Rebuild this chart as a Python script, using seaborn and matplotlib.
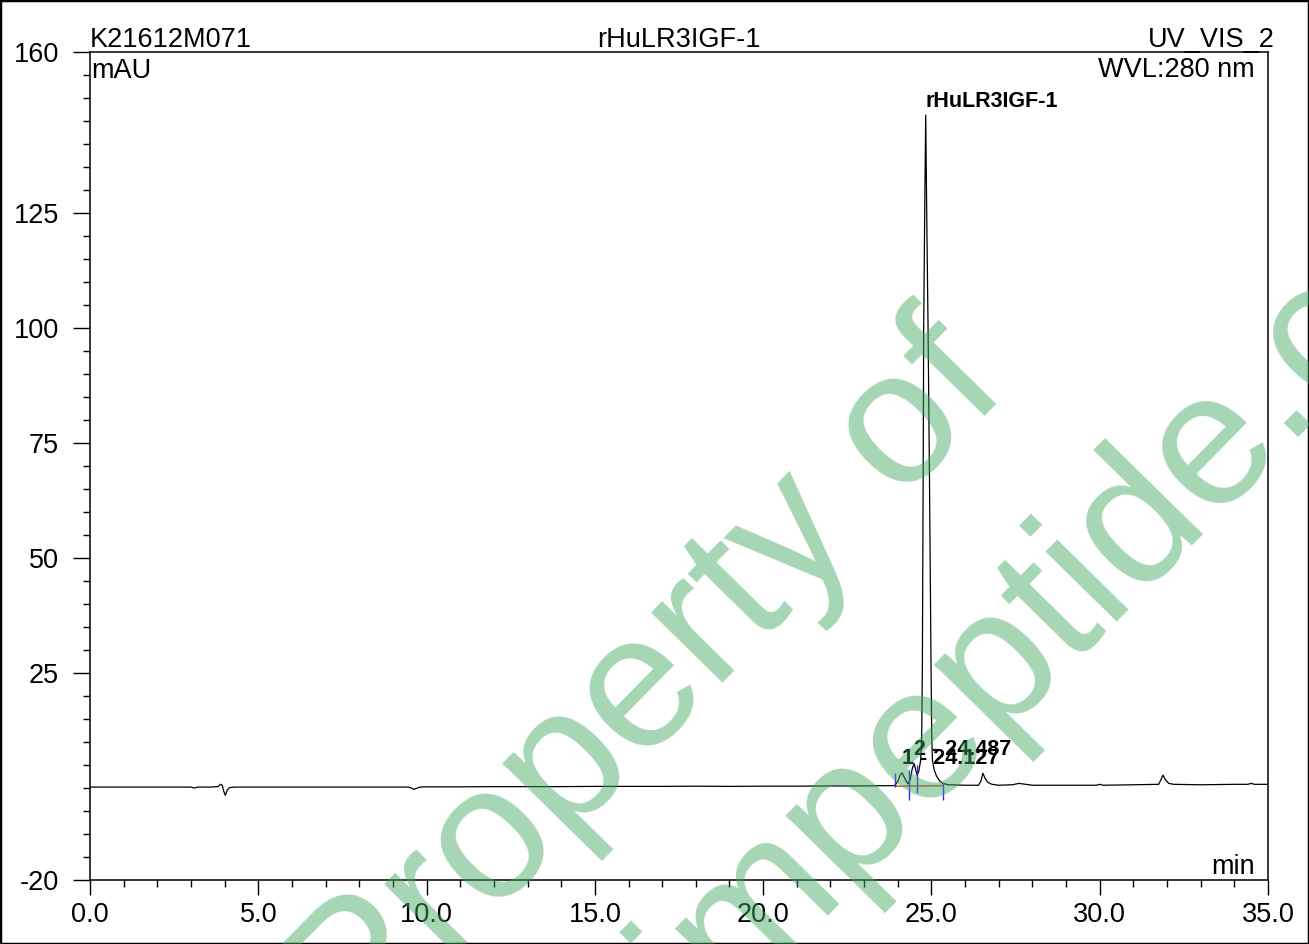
import numpy as np
import pandas as pd
import seaborn as sns
import matplotlib.pyplot as plt
from matplotlib.patches import Rectangle
from matplotlib.ticker import MultipleLocator, FixedLocator, FormatStrFormatter

# Chromatogram trace (time in min, signal in mAU)
time_min = [
    0.0, 0.5, 1.0, 1.5, 2.0, 2.5, 3.0, 3.1, 3.2, 3.6, 3.8, 3.88, 3.93, 3.97, 4.02,
    4.08, 4.15, 4.3, 4.5, 5.0, 6.0, 7.0, 8.0, 9.0, 9.45, 9.55, 9.62, 9.7, 9.8, 10.0,
    11.0, 12.0, 13.0, 14.0, 15.0, 16.0, 17.0, 18.0, 19.0, 20.0, 21.0, 22.0, 23.0,
    23.5, 23.9, 24.0, 24.07, 24.127, 24.2, 24.3, 24.37, 24.43, 24.487, 24.53, 24.57,
    24.62, 24.68, 24.71, 24.73, 24.755, 24.77, 24.80, 24.83, 24.86, 24.90, 24.94,
    24.99, 25.01, 25.03, 25.08, 25.15, 25.25, 25.34, 25.5, 26.0, 26.4, 26.47, 26.53,
    26.6, 26.68, 26.8, 27.0, 27.4, 27.6, 27.8, 28.0, 29.0, 29.9, 30.0, 30.1, 31.0,
    31.75, 31.82, 31.88, 31.95, 32.05, 32.2, 33.0, 34.0, 34.4, 34.5, 34.6, 35.0,
]
signal_mau = [
    0.2, 0.2, 0.2, 0.2, 0.2, 0.2, 0.2, 0.0, 0.2, 0.2, 0.3, 0.8, 0.6, -0.6, -1.6,
    -0.4, 0.1, 0.2, 0.2, 0.2, 0.2, 0.2, 0.2, 0.2, 0.2, 0.0, -0.3, -0.1, 0.2, 0.25,
    0.25, 0.3, 0.3, 0.3, 0.35, 0.35, 0.35, 0.4, 0.35, 0.4, 0.4, 0.45, 0.45,
    0.5, 0.5, 1.4, 2.8, 3.3, 2.2, 0.9, 1.8, 4.2, 5.3, 4.0, 2.8,
    3.5, 6.0, 11.0, 25.0, 69.0, 100.0, 125.0, 146.3, 125.0, 100.0, 69.0,
    25.0, 11.0, 6.0, 4.0, 2.6, 1.5, 1.0, 0.7, 0.6, 0.6, 1.5, 3.2,
    2.0, 1.2, 0.8, 0.6, 0.7, 1.0, 0.8, 0.6, 0.6, 0.6, 0.8, 0.6, 0.7,
    0.8, 1.8, 2.8, 1.8, 1.0, 0.8, 0.7, 0.8, 0.8, 1.0, 0.8, 0.8,
]

# Peak labels
peak_names = ["1 - 24.127", "2 - 24.487", "rHuLR3IGF-1"]
peak_times = [24.127, 24.487, 24.83]
peak_heights = [3.3, 5.3, 146.3]

# Integration delimiters and baseline
delim_times = [23.92, 24.33, 24.58, 25.34]
delim_low = [0.3, -2.6, -1.0, -2.6]
delim_high = [3.3, 3.9, 5.0, 1.0]
base_times = [23.92, 25.34]
base_values = [0.4, 0.5]

y_major = [-20, 25, 50, 75, 100, 125, 160]

df = pd.DataFrame({"time": time_min, "mAU": signal_mau})

sns.set_theme(style="ticks")
plt.rcParams["font.family"] = ["Liberation Sans", "DejaVu Sans"]
plt.rcParams["text.color"] = "black"
plt.rcParams["axes.unicode_minus"] = False

W, H = 1309, 944
fig = plt.figure(figsize=(W / 100, H / 100), dpi=100)


def fx(x):
    return x / W


def fy(y):
    return 1 - y / H


ax = fig.add_axes([fx(90), fy(880), fx(1268) - fx(90), fy(52) - fy(880)])

sns.lineplot(data=df, x="time", y="mAU", ax=ax, color="black", linewidth=0.9,
             sort=False, estimator=None)

# integration baseline and delimiters
ax.plot(base_times, base_values, color="#c8673c", linewidth=1.2)
ax.vlines(delim_times, delim_low, delim_high, color="#2a2aff", linewidth=1.0)

for name, t, h in zip(peak_names, peak_times, peak_heights):
    ax.annotate(name, xy=(t, h), xytext=(0, 6), textcoords="offset points",
                ha="left", va="baseline", fontsize=15.5, fontweight="bold",
                color="black")

ax.set_xlim(0, 35)
ax.set_ylim(-20, 160)
ax.xaxis.set_major_locator(MultipleLocator(5))
ax.xaxis.set_minor_locator(MultipleLocator(1))
ax.xaxis.set_major_formatter(FormatStrFormatter("%.1f"))
ax.yaxis.set_major_locator(FixedLocator(y_major))
ax.yaxis.set_minor_locator(MultipleLocator(5))
ax.tick_params(axis="y", which="major", length=12.5, width=1.0, pad=10,
               labelsize=19.5, color="black", labelcolor="black")
ax.tick_params(axis="x", which="major", length=11, width=1.0, pad=5,
               labelsize=19.5, color="black", labelcolor="black")
ax.tick_params(which="minor", length=5, width=1.0, color="black")
ax.set_xlabel("")
ax.set_ylabel("")
for s in ax.spines.values():
    s.set_visible(True)
    s.set_color("black")
    s.set_linewidth(1.1)
ax.grid(False)

# header and inner labels
fig.text(fx(90), fy(47), "K21612M071", fontsize=19.5, ha="left", va="baseline")
fig.text(fx(679), fy(47), "rHuLR3IGF-1", fontsize=19.5, ha="center", va="baseline")
fig.text(fx(1275), fy(47), "UV_VIS_2", fontsize=19.5, ha="right", va="baseline")
fig.text(fx(91), fy(78), "mAU", fontsize=19.5, ha="left", va="baseline")
fig.text(fx(1255), fy(77), "WVL:280 nm", fontsize=19.5, ha="right", va="baseline")
fig.text(fx(1255), fy(874), "min", fontsize=19.5, ha="right", va="baseline")

# watermark
wm_kw = dict(fontsize=137, color=(0.25, 0.66, 0.37), alpha=0.47, rotation=45.5,
             rotation_mode="anchor", ha="left", va="baseline", zorder=10)
fig.text(fx(358), fy(1054), "Property of", **wm_kw)
fig.text(fx(704), fy(1029), "impeptide.com", **wm_kw)

# frame around the whole picture
fig.patches.append(Rectangle((0, 0), 1, 1, transform=fig.transFigure, fill=False,
                             edgecolor="black", linewidth=2.5))

fig.savefig("out.png", dpi=100)
